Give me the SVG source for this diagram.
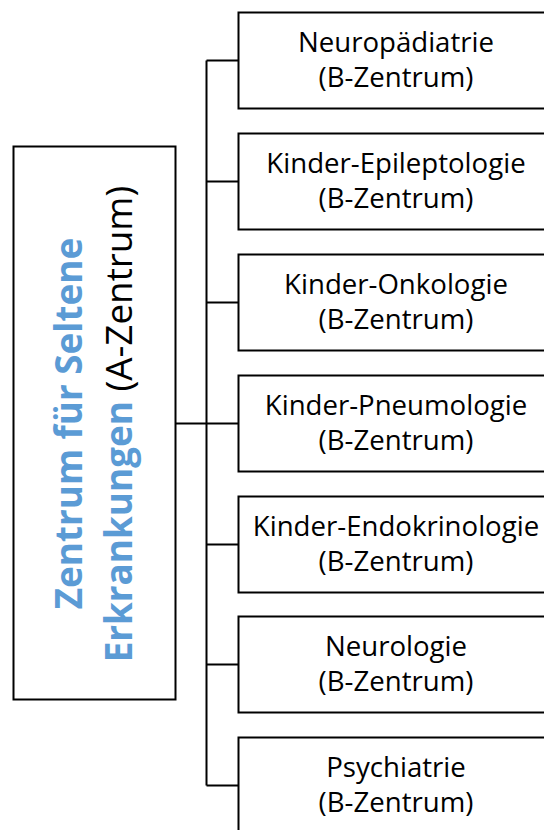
<svg xmlns="http://www.w3.org/2000/svg" width="544" height="830" viewBox="0 0 544 830">
<style>
.box{fill:#fff;stroke:#000;stroke-width:2}
.con{fill:none;stroke:#000;stroke-width:2}
.t{font-family:"Open Sans","Liberation Sans",sans-serif;font-size:27.6px;fill:#000;text-anchor:middle}
.big{font-family:"Open Sans","Liberation Sans",sans-serif;font-size:36.8px;text-anchor:middle}
.b{font-weight:bold;fill:#5B9BD5}
.k{fill:#000}
</style>
<rect width="544" height="830" fill="#fff"/>
<g id="connectors">
<path class="con" d="M175.5,423.5H238.5M206.5,60.5V785.5M206.5,60.5H238.5M206.5,181.5H238.5M206.5,302.5H238.5M206.5,544.5H238.5M206.5,664.5H238.5M206.5,785.5H238.5"/>
</g>
<g id="a-zentrum">
<rect class="box" x="13.5" y="146.5" width="162" height="553"/>
<text class="big" transform="translate(82,423.5) rotate(-90)"><tspan class="b">Zentrum für Seltene</tspan></text>
<text class="big" transform="translate(132,424) rotate(-90)"><tspan class="b">Erkrankungen </tspan><tspan class="k">(A-Zentrum)</tspan></text>
</g>
<g id="neuropaediatrie">
<rect class="box" x="238.5" y="12.5" width="314" height="96"/>
<text class="t" x="396" y="51.7">Neuropädiatrie</text>
<text class="t" x="396" y="86.7">(B-Zentrum)</text>
</g>
<g id="epileptologie">
<rect class="box" x="238.5" y="133.5" width="314" height="96"/>
<text class="t" x="396" y="172.7">Kinder-Epileptologie</text>
<text class="t" x="396" y="207.7">(B-Zentrum)</text>
</g>
<g id="onkologie">
<rect class="box" x="238.5" y="254.5" width="314" height="96"/>
<text class="t" x="396" y="293.7">Kinder-Onkologie</text>
<text class="t" x="396" y="328.7">(B-Zentrum)</text>
</g>
<g id="pneumologie">
<rect class="box" x="238.5" y="375.5" width="314" height="96"/>
<text class="t" x="396" y="414.7">Kinder-Pneumologie</text>
<text class="t" x="396" y="449.7">(B-Zentrum)</text>
</g>
<g id="endokrinologie">
<rect class="box" x="238.5" y="496.5" width="314" height="96"/>
<text class="t" x="396" y="535.7">Kinder-Endokrinologie</text>
<text class="t" x="396" y="570.7">(B-Zentrum)</text>
</g>
<g id="neurologie">
<rect class="box" x="238.5" y="616.5" width="314" height="96"/>
<text class="t" x="396" y="655.7">Neurologie</text>
<text class="t" x="396" y="690.7">(B-Zentrum)</text>
</g>
<g id="psychiatrie">
<rect class="box" x="238.5" y="737.5" width="314" height="110"/>
<text class="t" x="396" y="776.7">Psychiatrie</text>
<text class="t" x="396" y="811.7">(B-Zentrum)</text>
</g>
</svg>
